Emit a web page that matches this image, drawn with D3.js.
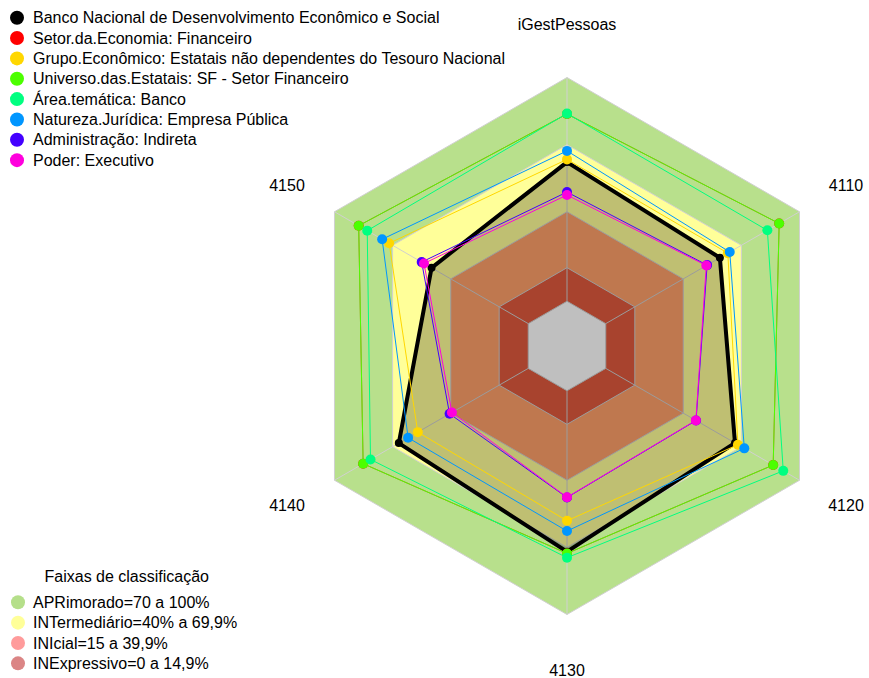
<!DOCTYPE html>
<html>
<head>
<meta charset="utf-8">
<script src="https://cdn.jsdelivr.net/npm/d3@7"></script>
<style>
  html, body { margin: 0; padding: 0; background: #ffffff; }
  svg { display: block; font-family: "Liberation Sans", Arial, sans-serif; }
</style>
</head>
<body>
<svg id="chart" width="869" height="678"></svg>
<script>
// ---------- data ----------
const chartTitle = "iGestPessoas";
const axes = ["iGestPessoas", "4110", "4120", "4130", "4140", "4150"];
const axisLabels = ["", "4110", "4120", "4130", "4140", "4150"];

const seriesNames = [
  "Banco Nacional de Desenvolvimento Econômico e Social",
  "Setor.da.Economia: Financeiro",
  "Grupo.Econômico: Estatais não dependentes do Tesouro Nacional",
  "Universo.das.Estatais: SF - Setor Financeiro",
  "Área.temática: Banco",
  "Natureza.Jurídica: Empresa Pública",
  "Administração: Indireta",
  "Poder: Executivo"
];
const seriesColors = ["#000000", "#FF0000", "#FFD700", "#4CFF00", "#00FF80", "#0096FF", "#4400FF", "#FF00DD"];

const bndes      = [62.2, 58.9, 66.7, 71.9, 66.8, 49.9];
const setorEcon  = [83.7, 89.5, 86.4, 72.7, 85.2, 87.5];
const grupoEcon  = [63.4, 63.0, 68.2, 58.1, 57.0, 71.8];
const universoSF = [83.7, 89.5, 86.4, 72.7, 85.2, 87.5];
const areaBanco  = [83.9, 83.4, 91.6, 74.6, 81.4, 83.1];
const natureza   = [67.2, 64.0, 71.5, 62.7, 62.0, 75.4];
const adminInd   = [48.8, 52.3, 46.6, 47.7, 40.6, 55.0];
const poderExec  = [47.5, 51.9, 46.5, 47.6, 39.4, 53.8];
const seriesValues = [bndes, setorEcon, grupoEcon, universoSF, areaBanco, natureza, adminInd, poderExec];

const bandNames = ["APRimorado=70 a 100%", "INTermediário=40% a 69,9%", "INIcial=15 a 39,9%", "INExpressivo=0 a 14,9%"];
const bandUpper = [100, 70, 40, 15];
const bandColors = ["#B8E08C", "#FFFF99", "#FFA06A", "#E05A3E"];
const bandLegendColors = ["#B5DF8A", "#FFFF99", "#FF9B9B", "#DB8585"];
const bandLegendTitle = "Faixas de classificação";

// ---------- layout ----------
const svg = d3.select("#chart");
const cx = 567, cy = 346, R = 268.5;
const rScale = d3.scaleLinear().domain([0, 100]).range([R / 6, R]);
function ang(i) { return -Math.PI / 2 + i * 2 * Math.PI / axes.length; }
function pt(i, v) { const a = ang(i); return [cx + rScale(v) * Math.cos(a), cy + rScale(v) * Math.sin(a)]; }
function hexAt(v) { return axes.map((d, i) => pt(i, v)); }
const line = d3.line().curve(d3.curveLinearClosed);

const g = svg.append("g");

// bands
bandUpper.forEach((u, k) => {
  g.append("path").attr("d", line(hexAt(u)))
    .attr("fill", bandColors[k]).attr("stroke", "#D0D0D0").attr("stroke-width", 1);
});
g.append("path").attr("d", line(hexAt(0))).attr("fill", "#FFFFFF").attr("stroke", "#D0D0D0").attr("stroke-width", 1);

// spokes
axes.forEach((d, i) => {
  const [x0, y0] = pt(i, 0), [x1, y1] = pt(i, 100);
  g.append("line").attr("x1", x0).attr("y1", y0).attr("x2", x1).attr("y2", y1)
    .attr("stroke", "#D0D0D0").attr("stroke-width", 1);
});

// series
seriesValues.forEach((vals, s) => {
  const pts = vals.map((v, i) => pt(i, v));
  const isMain = s === 0;
  g.append("path").attr("d", line(pts))
    .attr("fill", isMain ? "rgba(0,0,0,0.25)" : "none")
    .attr("stroke", seriesColors[s])
    .attr("stroke-width", isMain ? 4 : (s === 1 ? 0.6 : 1))
    .attr("stroke-linejoin", "round");
  g.selectAll(null).data(pts).enter().append("circle")
    .attr("cx", d => d[0]).attr("cy", d => d[1])
    .attr("r", isMain ? 4 : 5)
    .attr("fill", seriesColors[s]);
});

// title
svg.append("text").attr("x", 567).attr("y", 30).attr("text-anchor", "middle")
  .attr("font-size", 16).attr("fill", "#000").text(chartTitle);

// axis labels
const labelPos = [null, [846, 191], [846, 511], [567, 676], [287, 511], [287, 191]];
axisLabels.forEach((t, i) => {
  if (!t) return;
  svg.append("text").attr("x", labelPos[i][0]).attr("y", labelPos[i][1])
    .attr("text-anchor", "middle").attr("font-size", 16).attr("fill", "#000").text(t);
});

// series legend
const leg = svg.append("g");
seriesNames.forEach((n, s) => {
  const y = 17.7 + s * 20.35;
  leg.append("circle").attr("cx", 17).attr("cy", y).attr("r", 7).attr("fill", seriesColors[s]);
  leg.append("text").attr("x", 33).attr("y", y + 5.5).attr("font-size", 16).attr("fill", "#000").text(n);
});

// band legend
const leg2 = svg.append("g");
leg2.append("text").attr("x", 44.5).attr("y", 581.7).attr("font-size", 16).attr("fill", "#000").text(bandLegendTitle);
bandNames.forEach((n, k) => {
  const y = 602.3 + k * 20.35;
  leg2.append("circle").attr("cx", 18).attr("cy", y).attr("r", 7).attr("fill", bandLegendColors[k]);
  leg2.append("text").attr("x", 33).attr("y", y + 5.5).attr("font-size", 16).attr("fill", "#000").text(n);
});
</script>
</body>
</html>
